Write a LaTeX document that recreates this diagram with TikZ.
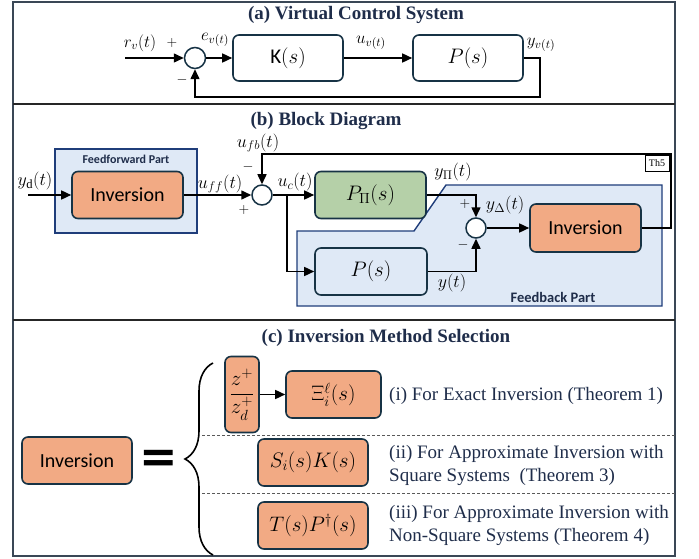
\RequirePackage{fix-cm}
\documentclass[tikz,border=0pt]{standalone}
\usepackage{amsmath}
\usepackage{fontspec}
\setmainfont{Liberation Serif}
\newfontfamily\calfont{Carlito}
\newfontfamily\djvfont{DejaVu Sans}
\usetikzlibrary{arrows.meta,decorations.pathreplacing}
\definecolor{orng}{HTML}{F2AA84}
\definecolor{bdr}{HTML}{173345}
\definecolor{grn}{HTML}{B5D0A8}
\definecolor{ltb}{HTML}{DFE9F6}
\definecolor{navy}{HTML}{1F3D7A}
\definecolor{ttl}{HTML}{1F2D4A}
\definecolor{frm}{HTML}{3A4756}
\begin{document}
\begin{tikzpicture}[x=1pt,y=-1pt,
  blk/.style={draw=bdr, line width=1.6pt, rounded corners=6pt, inner sep=0pt},
  org/.style={blk, fill=orng},
  sumc/.style={circle, draw=bdr, line width=1.5pt, fill=white, minimum size=21pt, inner sep=0pt},
  conn/.style={line width=1.5pt, black},
  arr/.style={conn, -{Triangle[length=10pt,width=9pt]}},
  lbl/.style={inner sep=0pt, font=\fontsize{18}{21}\selectfont},
  lbla/.style={inner sep=0pt, font=\fontsize{17}{20}\selectfont},
  boxm/.style={font=\fontsize{21}{25}\selectfont},
  inv/.style={font=\calfont\fontsize{20}{24}\selectfont},
  ttlf/.style={font=\fontsize{19}{22}\selectfont\bfseries, text=ttl, inner sep=0pt},
  desc/.style={font=\fontsize{19}{23}\selectfont, text=ttl, inner sep=0pt, align=left, anchor=west},
  pm/.style={inner sep=0pt, font=\fontsize{14}{16}\selectfont},
  dsh/.style={dash pattern=on 3pt off 2pt, line width=0.8pt, black!65},
]
\useasboundingbox (0,0) rectangle (699,559);
% frame
\draw[frm, line width=1.2pt] (13,2) rectangle (675,556);
\draw[line width=2pt, black!85] (13,104) -- (675,104);
\draw[line width=2pt, black!85] (13,320) -- (675,320);

% ---------- panel (a)
\node[ttlf] (ta) at (356,15) {(a) Virtual Control System};
\node[sumc] (s1) at (195,58) {};
\node[blk, minimum width=110pt, minimum height=46pt, boxm] (K) at (288,58) {{\calfont K}$(s)$};
\node[blk, minimum width=110pt, minimum height=46pt, boxm] (Pa) at (468,58) {$P(s)$};
\coordinate (rin) at (125,58);
\coordinate (fa) at (540,97);
\draw[arr] (rin) -- (s1);
\draw[arr] (s1) -- (K);
\draw[arr] (K) -- (Pa);
\draw[arr] (Pa.east) -| (fa) -| (s1.south);
\node[lbla] (lr) at (140,43) {$r_v(t)$};
\node[pm] (p1) at (172,43) {$+$};
\node[lbla] (le) at (215,40) {$e_{v(t)}$};
\node[pm] (m1) at (182,80) {$-$};
\node[lbla] (lu) at (371,43) {$u_{v(t)}$};
\node[lbla] (ly) at (541,45) {$y_{v(t)}$};

% ---------- panel (b)
\node[ttlf] (tb) at (326,121) {(b) Block Diagram};
\node[draw=navy, line width=1.4pt, fill=ltb, minimum width=142pt, minimum height=84pt, inner sep=0pt] (ffp) at (126,191) {};
\node[font=\calfont\bfseries\fontsize{12}{14}\selectfont, text=ttl, inner sep=0pt] (fft) at (126,159) {Feedforward Part};
\draw[draw=navy, line width=1.4pt, fill=ltb] (297,231) -- (414,231) -- (446,185) -- (662,185) -- (662,306) -- (297,306) -- cycle;
\node[font=\calfont\bfseries\fontsize{14.5}{16}\selectfont, text=ttl, inner sep=0pt] (fbt) at (553,297) {Feedback Part};
\node[org, minimum width=111pt, minimum height=47pt, inv] (iff) at (127.5,195) {Inversion};
\node[sumc, minimum size=20pt] (s2) at (262,195) {};
\node[blk, fill=grn, minimum width=111pt, minimum height=47pt, boxm] (Ppi) at (370.5,195) {$P_\Pi(s)$};
\node[blk, fill=ltb, minimum width=112pt, minimum height=47pt, boxm] (Pb) at (371,271.5) {$P(s)$};
\node[sumc, minimum size=20pt] (s3) at (476,228) {};
\node[org, minimum width=111pt, minimum height=48pt, inv] (ifb) at (585.5,228) {Inversion};
\node[draw=black, line width=0.6pt, fill=white, minimum width=24pt, minimum height=16pt, inner sep=0pt, font=\fontsize{10}{12}\selectfont] (th5) at (657,163.5) {Th5};
\coordinate (yd) at (28,195);
\coordinate (br) at (287,195);
\coordinate (fbR) at (671,154);
\draw[arr] (yd) -- (iff);
\draw[arr] (iff) -- (s2);
\draw[arr] (s2) -- (Ppi);
\draw[arr] (br) |- (Pb.west);
\draw[arr] (ifb.east) -| (fbR) -| (s2.north);
\draw[arr] (Ppi.east) -| (s3.north);
\draw[arr] (Pb.east) -| (s3.south);
\draw[arr] (s3) -- (ifb);
\node[lbl] (lufb) at (258,143) {$u_{fb}(t)$};
\node[pm] (m2) at (248,167) {$-$};
\node[lbl] (lyd) at (35,181) {$y_{\mathrm{d}}(t)$};
\node[lbl] (luff) at (220,184) {$u_{ff}(t)$};
\node[pm] (p2) at (244,210) {$+$};
\node[lbl] (luc) at (295,182) {$u_c(t)$};
\node[lbl] (lypi) at (453,172) {$y_\Pi(t)$};
\node[pm] (p3) at (465,204) {$+$};
\node[lbl] (lyD) at (505,205) {$y_\Delta(t)$};
\node[pm] (m3) at (463,245) {$-$};
\node[lbl] (lyt) at (452,283) {$y(t)$};

% ---------- panel (c)
\node[ttlf] (tc) at (386,338) {(c) Inversion Method Selection};
\node[org, minimum width=110pt, minimum height=47pt, inv] (invL) at (77,460.5) {Inversion};
\node[font=\djvfont\bfseries\fontsize{46}{46}\selectfont, inner sep=0pt] (eq) at (159,461) {=};
\draw[line width=1.6pt, decorate, decoration={brace, amplitude=28pt}] (213,555) -- (213,363);
\node[org, minimum width=34pt, minimum height=76pt, font=\fontsize{21}{25}\selectfont] (fr) at (242,394.5) {$\dfrac{z^+}{z_d^+}$};
\node[org, minimum width=95pt, minimum height=47pt, boxm] (Xi) at (333.5,394.5) {$\Xi_i^\ell(s)$};
\draw[arr] (fr) -- (Xi);
\node[org, minimum width=110pt, minimum height=47pt, boxm] (Sk) at (313,462.5) {$S_i(s)K(s)$};
\node[org, minimum width=110pt, minimum height=47pt, boxm] (Tp) at (313,525.5) {$T(s)P^\dagger(s)$};
\draw[dsh] (202,435) -- (675,435);
\draw[dsh] (202,493) -- (675,493);
\node[desc] (d1) at (389,396) {(i) For Exact Inversion (Theorem 1)};
\node[desc] (d2) at (389,465.5) {(ii) For Approximate Inversion with\\Square Systems\ \ (Theorem 3)};
\node[desc] (d3) at (389,525.5) {(iii) For Approximate Inversion with\\Non-Square Systems (Theorem 4)};
\end{tikzpicture}
\end{document}
